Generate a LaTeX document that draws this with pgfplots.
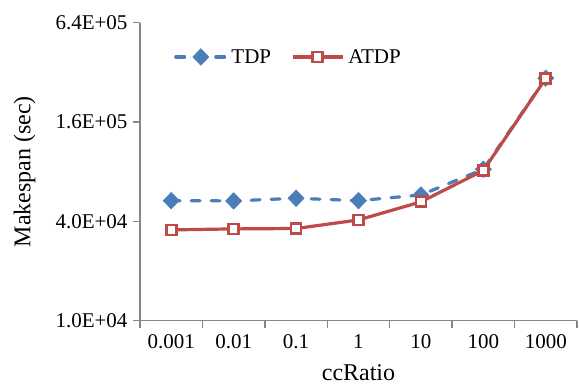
\documentclass[border=0pt]{standalone}
\usepackage{pgfplots}
\pgfplotsset{compat=1.18}
\usepackage{fontspec}
\setmainfont{Liberation Serif}
\definecolor{tdpblue}{HTML}{4A7EBB}
\definecolor{atdpred}{HTML}{BE4B48}
\definecolor{axgray}{HTML}{868686}
\begin{document}
\begin{tikzpicture}
\path[use as bounding box] (-140pt,-69.3pt) rectangle (439pt,320.7pt);
\begin{axis}[
  at={(0pt,0pt)}, anchor=south west,
  scale only axis, width=437pt, height=298pt,
  xmin=-0.5, xmax=6.5,
  ymode=log, log basis y=4,
  ymin=1e4, ymax=6.4e5,
  ytick={1e4,4e4,1.6e5,6.4e5},
  yticklabels={1.0E+04,4.0E+04,1.6E+05,6.4E+05},
  xtick={-0.5,0.5,1.5,2.5,3.5,4.5,5.5,6.5},
  x tick label as interval,
  xticklabels={0.001,0.01,0.1,1,10,100,1000},
  axis lines=left,
  axis line style={-, draw=axgray, line width=1.5pt},
  tick style={draw=axgray, line width=1.5pt},
  tick align=outside, major tick length=7pt,
  minor tick num=0,
  /pgf/number format/assume math mode=true,
  tick label style={font=\rmfamily\fontsize{21}{24}\selectfont},
  label style={font=\rmfamily\fontsize{24}{28}\selectfont},
  xlabel={ccRatio}, ylabel={Makespan (sec)},
  xlabel style={at={(rel axis cs:0.5,0)}, anchor=north, yshift=-40pt},
  ylabel style={at={(rel axis cs:0,0.5)}, anchor=south, yshift=101pt},
  yticklabel style={xshift=-2pt},
  xticklabel style={yshift=-3pt},
  legend style={at={(rel axis cs:0.071,0.885)}, anchor=west, draw=none, fill=none,
    font=\rmfamily\fontsize{21}{24}\selectfont, column sep=2pt,
    nodes={inner xsep=2pt},
    /tikz/every even column/.append style={column sep=18pt}},
  legend columns=2,
  legend image code/.code={\draw[mark repeat=2,mark phase=2] plot coordinates {(0pt,0pt) (25pt,0pt) (50pt,0pt)};},
  clip=false,
]
\addplot[color=tdpblue, line width=3.2pt, line cap=round, dash pattern=on 8.8pt off 11.2pt,
  mark=diamond*, mark size=8.3pt, mark options={solid, fill=tdpblue, line width=0.5pt, xscale=1.3}]
  coordinates {(0,53400) (1,53200) (2,55200) (3,53400) (4,57800) (5,82800) (6,295000)};
\addlegendentry{TDP}
\addplot[color=atdpred, line width=3.2pt,
  mark=square*, mark size=5pt, mark options={solid, fill=white, line width=2.8pt}]
  coordinates {(0,35500) (1,36000) (2,36200) (3,40800) (4,52500) (5,81400) (6,294000)};
\addlegendentry{ATDP}
\end{axis}
\end{tikzpicture}
\end{document}
